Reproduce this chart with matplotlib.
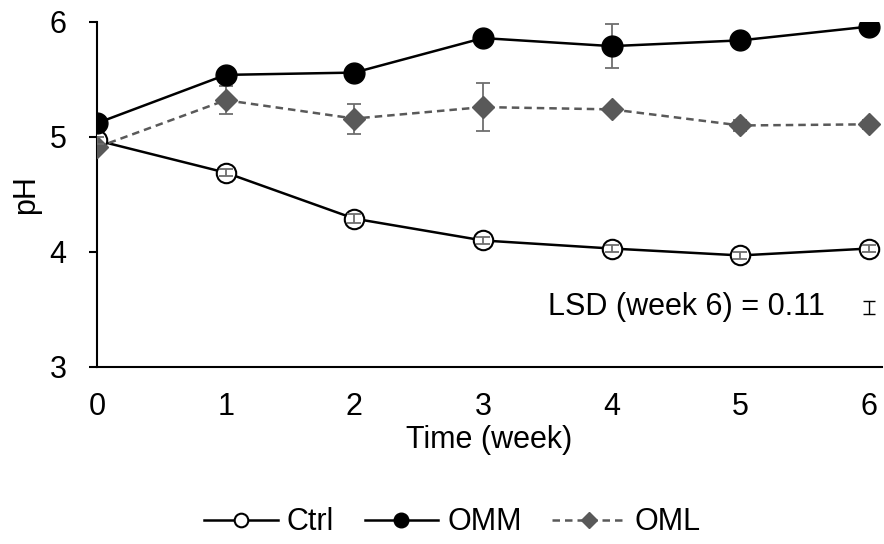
import matplotlib.pyplot as plt
import numpy as np

plt.rcParams['font.family'] = ['Liberation Sans', 'DejaVu Sans']

weeks = [0, 1, 2, 3, 4, 5, 6]
ctrl = [4.97, 4.69, 4.29, 4.10, 4.03, 3.97, 4.03]
ctrl_err = [0.03, 0.03, 0.04, 0.03, 0.03, 0.03, 0.03]
omm = [5.12, 5.54, 5.56, 5.86, 5.79, 5.84, 5.96]
omm_err = [0.03, 0.04, 0.03, 0.03, 0.19, 0.04, 0.04]
oml = [4.91, 5.32, 5.16, 5.26, 5.24, 5.10, 5.11]
oml_err = [0.03, 0.12, 0.13, 0.21, 0.03, 0.05, 0.04]
lsd_week6 = 0.11

fig = plt.figure(figsize=(8.84, 5.44), dpi=100)
ax = fig.add_axes([0.1097, 0.3254, 0.888, 0.6342])

err_color = '#6e6e6e'
grey = '#595959'
fs = 22

h_ctrl, = ax.plot(weeks, ctrl, '-o', color='black', lw=1.8, ms=14,
                  mfc='white', mec='black', mew=1.5, zorder=3)
h_omm, = ax.plot(weeks, omm, '-o', color='black', lw=1.8, ms=15,
                 mfc='black', mec='black', zorder=3)
h_oml, = ax.plot(weeks, oml, '--D', color=grey, lw=1.8, ms=11,
                 mfc=grey, mec=grey, dashes=(3, 2), zorder=3)

# open circles show their error bars on top, filled markers hide them
for vals, errs, z in [(ctrl, ctrl_err, 4), (omm, omm_err, 2), (oml, oml_err, 2)]:
    ax.errorbar(weeks, vals, yerr=errs, fmt='none', ecolor=err_color,
                elinewidth=1.3, capsize=5, capthick=1.3, zorder=z)

# LSD bar at week 6
ax.errorbar([6], [3.52], yerr=lsd_week6 / 2, fmt='none', ecolor='black',
            elinewidth=1, capsize=4, capthick=1, zorder=4)
ax.text(5.66, 3.52, f'LSD (week 6) = {lsd_week6:.2f}', fontsize=fs,
        ha='right', va='center')

ax.set_xlim(0, 6.1)
ax.set_ylim(3, 6)
ax.set_xticks(weeks)
ax.set_yticks([3, 4, 5, 6])
ax.tick_params(axis='x', length=0, labelsize=fs, pad=18)
ax.tick_params(axis='y', length=6, width=1.5, labelsize=fs, pad=16)
for s in ['top', 'right']:
    ax.spines[s].set_visible(False)
ax.spines['left'].set_linewidth(1.5)
ax.spines['bottom'].set_linewidth(1.5)
ax.set_xlabel('Time (week)', fontsize=fs, labelpad=2)
ax.set_ylabel('pH', fontsize=fs, labelpad=6)

fig.legend([h_ctrl, h_omm, h_oml], ['Ctrl', 'OMM', 'OML'], loc='center',
           bbox_to_anchor=(0.512, 0.04), ncol=3, frameon=False, fontsize=fs,
           handlelength=2.4, columnspacing=1.0, handletextpad=0.3,
           markerscale=0.7)

fig.savefig('out.png', dpi=100)
